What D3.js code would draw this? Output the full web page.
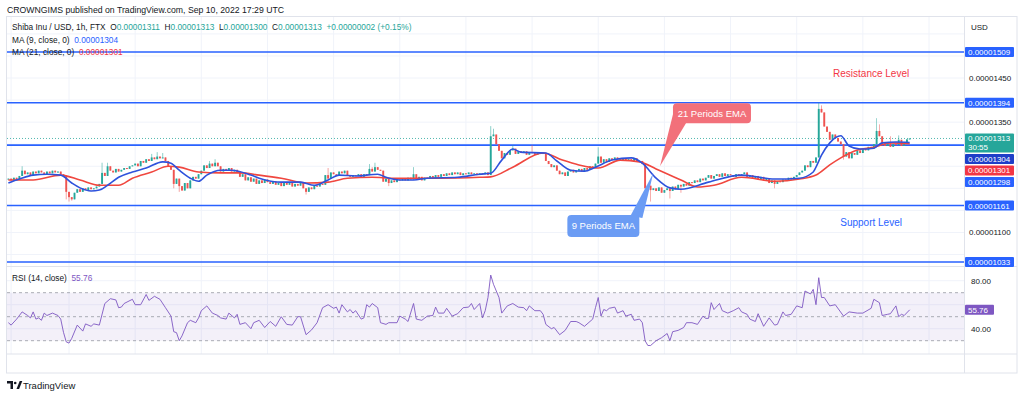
<!DOCTYPE html>
<html>
<head>
<meta charset="utf-8">
<script src="https://cdn.jsdelivr.net/npm/d3@7"></script>
<style>
  body { margin: 0; background: #fff; }
  svg { display: block; font-family: "Liberation Sans", Arial, sans-serif; }
</style>
</head>
<body>
<div id="chart"></div>
<script>
var width = 1024, height = 397;
var paneL = 7, paneR = 964, axisR = 1017;
var mainTop = 17, sepY = 266.5, rsiBot = 354, timeBot = 373;

// hourly bars start Aug 28 02:00 UTC, prices in units of 1e-8 USD
var startTime = Date.UTC(2022, 7, 28, 2);
var firstOpen = 1220;
var closes = [
  1222,1218,1224,1220,1228,1240,1232,1236,1230,1238,1234,1240,1236,1232,1238,1234,1240,1236,1238,1232,1228,1192,
  1180,1175,1190,1198,1192,1200,1196,1202,1198,1200,1204,1210,1235,1228,1250,1240,1236,1244,1238,1242,1246,1244,1250,1252,
  1256,1250,1262,1258,1266,1262,1270,1266,1272,1268,1270,1262,1250,1242,1210,1222,1205,1195,1212,1200,1218,1226,1222,1232,
  1240,1252,1246,1256,1250,1258,1250,1238,1244,1240,1246,1238,1242,1236,1226,1232,1218,1225,1215,1222,1210,1218,1212,1220,
  1214,1210,1216,1208,1212,1205,1214,1208,1212,1204,1210,1206,1212,1200,1192,1202,1198,1206,1204,1210,1208,1230,1222,1236,
  1232,1228,1238,1234,1240,1230,1226,1230,1228,1232,1226,1232,1230,1244,1238,1248,1242,1240,1215,1222,1212,1218,1214,1220,
  1218,1222,1218,1224,1220,1232,1222,1226,1218,1224,1222,1228,1224,1230,1226,1232,1228,1234,1230,1236,1232,1236,1230,1234,
  1232,1236,1232,1234,1230,1234,1232,1236,1230,1318,1322,1300,1285,1268,1280,1276,1286,1290,1278,1284,1280,1284,1276,1282,
  1280,1276,1282,1278,1280,1262,1255,1248,1252,1240,1232,1236,1228,1238,1242,1236,1240,1244,1238,1246,1242,1250,1248,1256,
  1272,1258,1266,1260,1268,1264,1270,1266,1262,1268,1264,1266,1262,1268,1260,1262,1255,1200,1206,1196,1200,1194,1202,1190,
  1196,1200,1194,1204,1198,1208,1204,1210,1206,1214,1212,1218,1214,1222,1218,1224,1230,1222,1228,1232,1226,1234,1228,1232,
  1230,1226,1232,1228,1232,1236,1226,1230,1222,1228,1220,1226,1218,1222,1212,1218,1210,1216,1214,1220,1218,1224,1220,1226,
  1230,1236,1240,1252,1248,1262,1258,1270,1380,1372,1340,1328,1310,1322,1314,1306,1300,1272,1282,1268,1280,1276,1286,1280,
  1290,1286,1294,1290,1300,1330,1318,1300,1296,1302,1294,1300,1298,1310,1296,1302,1311,1313
];
// [bar, price] wick extremes
var wickHighs = [[5,1250],[34,1258],[36,1258],[52,1278],[54,1282],[56,1280],[73,1262],[75,1266],[116,1246],[131,1255],
  [132,1248],[133,1258],[147,1248],[175,1341],[176,1335],[183,1298],[190,1298],[214,1293],[294,1394],[295,1388],
  [315,1359],[316,1345],[320,1318],[323,1320]];
var wickLows = [[21,1175],[22,1170],[23,1172],[60,1200],[62,1192],[108,1186],[138,1205],[233,1170],[240,1177],
  [244,1190],[278,1200],[303,1265]];

var ma9 = [[0,1212],[4,1221],[9,1230],[14,1232],[19,1230],[23,1212],[26,1201],[30,1194],[33,1196],[36,1207],[40,1225],
  [45,1237],[50,1246],[56,1260],[59,1257],[62,1241],[66,1223],[69,1216],[72,1230],[77,1241],[81,1241],[88,1230],
  [91,1223],[99,1214],[106,1214],[111,1207],[116,1219],[120,1230],[126,1228],[134,1232],[137,1225],[142,1219],
  [147,1219],[152,1223],[163,1225],[171,1232],[175,1234],[179,1264],[183,1289],[186,1282],[195,1280],[199,1262],
  [204,1241],[209,1239],[213,1248],[219,1264],[226,1269],[230,1257],[235,1223],[240,1201],[244,1198],[254,1214],
  [266,1230],[278,1221],[287,1223],[292,1237],[293,1248],[295,1275],[298,1303],[302,1319],[305,1296],[309,1289],
  [314,1291],[317,1303],[322,1305],[327,1304]];
var ma21 = [[0,1219],[9,1219],[19,1230],[26,1219],[33,1207],[40,1207],[45,1223],[52,1237],[58,1250],[62,1248],[69,1237],
  [77,1235],[84,1235],[91,1230],[99,1223],[108,1212],[116,1214],[123,1223],[132,1225],[140,1223],[147,1223],[157,1223],
  [171,1225],[175,1226],[183,1248],[194,1280],[201,1264],[207,1253],[214,1246],[222,1264],[229,1260],[235,1244],
  [244,1219],[250,1203],[256,1207],[266,1225],[278,1216],[287,1221],[293,1230],[298,1253],[302,1269],[308,1287],
  [314,1293],[320,1303],[327,1301]];

var rsi = [[0,45],[1,43],[3,48],[5,54],[7,51],[8,49],[9,54],[10,48],[11,49],[12,47],[13,53],[14,51],[16,53],[18,51],
  [19,48],[20,37],[21,29],[22,28],[23,32],[25,43],[27,38],[28,44],[30,42],[31,44],[33,43],[35,61],[37,65],[39,64],
  [40,57.5],[41,58],[42,61],[45,64.5],[46,60],[48,60],[50,68.5],[51,63.6],[53,67],[55,64.5],[57,57.5],[59,50.5],
  [60,37.5],[61,36.7],[62,30],[63,34],[65,45],[66,47],[68,45],[69,49],[70,55],[72,59],[74,53],[76,51],[77,49],[79,48],
  [80,53],[82,49],[83,52],[84,43.6],[86,45],[88,40],[89,45],[91,47],[93,41],[95,46],[97,42],[99,50],[101,43.6],
  [103,43],[105,50],[106,50],[108,35],[110,39],[112,45],[114,57.5],[116,60],[118,57],[119,58],[120,53],[121,60],
  [123,54],[124,56],[125,53],[126,55],[128,48],[129,49],[130,60],[131,58],[132,61],[134,57.5],[135,45],[137,43.6],
  [138,45],[141,45],[142,50.5],[144,48],[145,46],[147,61],[148,48],[150,47],[152,50.5],[154,51],[155,58],[156,53],
  [158,53],[159,57],[161,50.5],[163,52.5],[165,57.5],[167,58],[168,61],[169,56],[171,61],[172,49],[173,55],[174,66],
  [175,84.7],[176,77],[178,66],[179,53],[181,59],[183,61],[185,58],[187,57.5],[188,55],[189,59],[191,55],[193,55],
  [194,52],[195,43.6],[197,40],[198,41],[200,35],[202,38.6],[204,46],[206,46],[207,45],[209,42],[212,48],[213,57.5],
  [214,66],[215,50.5],[216,56],[217,55],[218,57],[220,58],[221,53],[223,55],[224,50.5],[226,52],[227,47],[229,48],
  [230,45],[231,30],[232,26],[233,26],[235,30],[237,32.5],[239,36],[240,30],[241,37.5],[243,38.6],[245,41],[246,45],
  [248,45],[250,43.6],[252,50.5],[253,48.6],[254,48.6],[255,61.7],[256,56],[258,61],[259,55],[261,53],[263,55],
  [265,57.5],[266,54],[268,52],[269,48],[271,46],[272,52.5],[274,42],[276,49],[278,43],[279,43.6],[281,54],[282,51],
  [284,52],[286,59],[288,57.5],[289,71.4],[291,69],[292,72.8],[293,60],[294,82.5],[295,66],[296,66],[298,59],[300,60],
  [303,50.5],[305,54],[308,53],[310,53],[313,57],[314,64.5],[316,61.7],[317,51],[319,52],[320,52.5],[322,59],[323,50],
  [324,52],[325,51],[327,55.76]];

var levels = [1509, 1394, 1298, 1161, 1033];
var priceTicks = [1050,1100,1150,1200,1250,1300,1350,1400,1450,1500,1550];
var rsiTicks = [40, 60, 80];
var timeTicks = ["2022-08-28T03:00Z","2022-08-29","2022-08-30","2022-08-31","2022-09-01","2022-09-02","2022-09-03",
  "2022-09-04","2022-09-05","2022-09-06","2022-09-07","2022-09-08","2022-09-09","2022-09-10","2022-09-11"];
var timeLabels = ["03:00","29","30","31","Sep","2","3","4","5","6","7","8","9","10","11"];

var upColor = '#26a69a', downColor = '#ef5350', textColor = '#131722', gridColor = '#f0f3fa', lineBlue = '#2962ff';
var ma9Color = '#2e52dc', ma21Color = '#f0473f', rsiColor = '#7e57c2';

var barTime = i => new Date(startTime + i * 3600e3);
var x = d3.scaleUtc()
      .domain([new Date(Date.UTC(2022,7,29)), new Date(Date.UTC(2022,8,11))])
      .range([69, 929]);
var y = d3.scaleLinear().domain([1033, 1509]).range([262, 52]);
var yR = d3.scaleLinear().domain([30, 70]).range([340.7, 292.7]);
var fmt = v => (v / 1e8).toFixed(8);

var svg = d3.select('#chart').append('svg')
      .attr('width', width)
      .attr('height', height)
      .style('font-size', '8px')

var defs = svg.append('defs')
defs.append('clipPath').attr('id', 'mainClip')
      .append('rect').attr('x', paneL).attr('y', mainTop).attr('width', paneR - paneL).attr('height', sepY - mainTop)
defs.append('clipPath').attr('id', 'rsiClip')
      .append('rect').attr('x', paneL).attr('y', sepY).attr('width', paneR - paneL).attr('height', rsiBot - sepY)
defs.append('clipPath').attr('id', 'timeClip')
      .append('rect').attr('x', paneL).attr('y', rsiBot).attr('width', paneR - paneL).attr('height', timeBot - rsiBot)

// header
svg.append('text')
      .attr('x', 7).attr('y', 12.5)
      .style('font-size', '8.7px').attr('fill', textColor)
      .text('CROWNGIMS published on TradingView.com, Sep 10, 2022 17:29 UTC')

// grid
var tickDates = timeTicks.map(d => new Date(d));
var grid = svg.append('g')
grid.selectAll('line.v').data(tickDates).enter().append('line')
      .attr('x1', d => x(d)).attr('x2', d => x(d))
      .attr('y1', mainTop).attr('y2', rsiBot)
      .attr('stroke', gridColor)
grid.selectAll('line.h').data(priceTicks).enter().append('line')
      .attr('x1', paneL).attr('x2', paneR)
      .attr('y1', d => y(d)).attr('y2', d => y(d))
      .attr('stroke', gridColor)
      .attr('clip-path', 'url(#mainClip)')
grid.selectAll('line.r').data(rsiTicks).enter().append('line')
      .attr('x1', paneL).attr('x2', paneR)
      .attr('y1', d => yR(d)).attr('y2', d => yR(d))
      .attr('stroke', gridColor)

// price pane
var main = svg.append('g').attr('clip-path', 'url(#mainClip)')

main.selectAll('line.level').data(levels).enter().append('line')
      .attr('x1', paneL).attr('x2', paneR)
      .attr('y1', d => y(d)).attr('y2', d => y(d))
      .attr('stroke', lineBlue).attr('stroke-width', 1.6)

var lastClose = closes[closes.length - 1];
main.append('line')
      .attr('x1', paneL).attr('x2', paneR)
      .attr('y1', y(lastClose)).attr('y2', y(lastClose))
      .attr('stroke', upColor).attr('stroke-dasharray', '1,2').attr('stroke-width', 0.8)

var hiMap = new Map(wickHighs), loMap = new Map(wickLows);
var bars = closes.map((c, i) => {
      var o = i ? closes[i - 1] : firstOpen;
      return { i: i, o: o, c: c,
            h: hiMap.has(i) ? hiMap.get(i) : Math.max(o, c),
            l: loMap.has(i) ? loMap.get(i) : Math.min(o, c) };
});
var candles = main.selectAll('g.candle').data(bars).enter().append('g')
candles.append('line')
      .attr('x1', d => x(barTime(d.i))).attr('x2', d => x(barTime(d.i)))
      .attr('y1', d => y(d.h)).attr('y2', d => y(d.l))
      .attr('stroke', d => d.c >= d.o ? upColor : downColor).attr('stroke-width', 0.7).attr('opacity', 0.75)
candles.append('rect')
      .attr('x', d => x(barTime(d.i)) - 0.95).attr('width', 1.9)
      .attr('y', d => y(Math.max(d.o, d.c)))
      .attr('height', d => Math.max(1, Math.abs(y(d.o) - y(d.c))))
      .attr('fill', d => d.c >= d.o ? upColor : downColor)

var maLine = d3.line().x(d => x(barTime(d[0]))).y(d => y(d[1])).curve(d3.curveMonotoneX);
main.append('path').attr('d', maLine(ma21)).attr('fill', 'none').attr('stroke', ma21Color).attr('stroke-width', 1.6)
main.append('path').attr('d', maLine(ma9)).attr('fill', 'none').attr('stroke', ma9Color).attr('stroke-width', 1.6)

// annotations
main.append('text').attr('x', x(barTime(313))).attr('y', y(1461) + 3.5)
      .attr('text-anchor', 'middle').style('font-size', '10px').attr('fill', '#f23645').text('Resistance Level')
main.append('text').attr('x', x(barTime(313))).attr('y', y(1123) + 3.5)
      .attr('text-anchor', 'middle').style('font-size', '10px').attr('fill', lineBlue).text('Support Level')

function callout(tipBar, tipVal, box, base, color, label) {
      var tx = x(barTime(tipBar)), ty = y(tipVal);
      var g = svg.append('g')
      g.append('polygon')
            .attr('points', [[tx + base[0][0], ty + base[0][1]], [tx + base[1][0], ty + base[1][1]], [tx, ty]].join(' '))
            .attr('fill', color)
      g.append('rect')
            .attr('x', tx + box[0]).attr('y', ty + box[1]).attr('width', box[2]).attr('height', box[3])
            .attr('rx', 4).attr('fill', color)
      g.append('text')
            .attr('x', tx + box[0] + box[2] / 2).attr('y', ty + box[1] + box[3] / 2 + 3.3)
            .attr('text-anchor', 'middle').style('font-size', '9.5px').attr('fill', '#fff').text(label)
}
callout(236.4, 1250, [13, -63, 78, 20], [[14, -56], [26, -43]], '#f2707a', '21 Periods EMA')
callout(234, 1235, [-86, 42, 72, 22], [[-23, 43], [-11, 45]], '#6b9cf4', '9 Periods EMA')

// RSI pane
var rsiG = svg.append('g').attr('clip-path', 'url(#rsiClip)')
rsiG.append('rect')
      .attr('x', paneL).attr('width', paneR - paneL)
      .attr('y', yR(70)).attr('height', yR(30) - yR(70))
      .attr('fill', 'rgba(126,87,194,0.09)')
rsiG.selectAll('line.band').data([70, 50, 30]).enter().append('line')
      .attr('x1', paneL).attr('x2', paneR)
      .attr('y1', d => yR(d)).attr('y2', d => yR(d))
      .attr('stroke', '#9598a1').attr('stroke-dasharray', '3,3').attr('stroke-width', 0.8)
rsiG.append('path')
      .attr('d', d3.line().x(d => x(barTime(d[0]))).y(d => yR(d[1]))(rsi))
      .attr('fill', 'none').attr('stroke', rsiColor).attr('stroke-width', 0.9)

// frame lines
var frame = svg.append('g').attr('stroke', '#e0e3eb').attr('fill', 'none')
frame.append('rect').attr('x', paneL - 0.5).attr('y', mainTop - 0.5).attr('width', axisR - paneL + 0.5).attr('height', timeBot - mainTop + 0.5)
frame.append('line').attr('x1', paneR + 0.5).attr('x2', paneR + 0.5).attr('y1', mainTop).attr('y2', timeBot)
frame.append('line').attr('x1', paneL).attr('x2', axisR).attr('y1', sepY).attr('y2', sepY)
frame.append('line').attr('x1', paneL).attr('x2', axisR).attr('y1', rsiBot).attr('y2', rsiBot)

// legends
function legendLine(yy, parts) {
      var t = svg.append('text').attr('x', 12).attr('y', yy).attr('xml:space', 'preserve').style('font-size', '8.3px')
      parts.forEach(p => t.append('tspan').attr('fill', p[1]).text(p[0]))
}
legendLine(30, [['Shiba Inu / USD, 1h, FTX  ', textColor], ['O', textColor], ['0.00001311', upColor],
      ['  H', textColor], ['0.00001313', upColor], ['  L', textColor], ['0.00001300', upColor],
      ['  C', textColor], ['0.00001313', upColor], ['  +0.00000002 (+0.15%)', upColor]])
legendLine(42.5, [['MA (9, close, 0)  ', textColor], [fmt(ma9[ma9.length - 1][1]), lineBlue]])
legendLine(54.5, [['MA (21, close, 0)  ', textColor], [fmt(ma21[ma21.length - 1][1]), '#f23645']])
legendLine(280.5, [['RSI (14, close)  ', textColor], [rsi[rsi.length - 1][1].toFixed(2), rsiColor]])

// axis value labels, stacked so they do not overlap
var tags = levels.map(v => ({ v: v, color: lineBlue, h: 10 }));
tags.push({ v: lastClose, color: upColor, h: 19, extra: '30:55' });
tags.push({ v: ma9[ma9.length - 1][1], color: '#1e3fc8', h: 10 });
tags.push({ v: ma21[ma21.length - 1][1], color: '#f23645', h: 10 });
tags.sort((a, b) => y(a.v) - y(b.v));
var prevBottom = -Infinity;
tags.forEach(t => {
      t.top = Math.max(y(t.v) - 5, prevBottom + 1.5);
      prevBottom = t.top + t.h;
});
var lastRsi = rsi[rsi.length - 1][1];

// price axis: ticks hidden where a tag or the USD caption sits on them
var freeTicks = priceTicks.filter(v => y(v) > 40 &&
      tags.every(t => y(v) + 5 < t.top || y(v) - 5 > t.top + t.h));
svg.selectAll('text.ptick').data(freeTicks).enter().append('text')
      .attr('class', 'ptick')
      .attr('x', paneR + 5).attr('y', d => y(d) + 3)
      .attr('fill', textColor)
      .text(fmt)
svg.append('text').attr('x', paneR + 7).attr('y', 30).attr('fill', textColor).text('USD')

var freeRsi = rsiTicks.filter(v => Math.abs(yR(v) - yR(lastRsi)) > 10);
svg.selectAll('text.rtick').data(freeRsi).enter().append('text')
      .attr('class', 'rtick')
      .attr('x', paneR + 7).attr('y', d => yR(d) + 3)
      .attr('fill', textColor)
      .text(d3.format('.2f'))

// time axis
var timeAxis = svg.append('g')
      .attr('transform', 'translate(0,' + rsiBot + ')')
      .attr('clip-path', 'url(#timeClip)')
      .call(d3.axisBottom(x).tickValues(tickDates).tickSize(0).tickPadding(6).tickFormat((d, i) => timeLabels[i]))
timeAxis.select('.domain').remove()
timeAxis.selectAll('text').attr('fill', textColor).style('font-size', '8px').style('font-family', 'inherit')

var tagG = svg.selectAll('g.tag').data(tags).enter().append('g')
tagG.append('rect')
      .attr('x', paneR + 1).attr('y', d => d.top).attr('width', 49).attr('height', d => d.h)
      .attr('rx', 1).attr('fill', d => d.color)
tagG.append('text')
      .attr('x', paneR + 4).attr('y', d => d.top + 8)
      .attr('fill', '#fff').text(d => fmt(d.v))
tagG.filter(d => d.extra).append('text')
      .attr('x', paneR + 4).attr('y', d => d.top + 17)
      .attr('fill', '#fff').text(d => d.extra)

svg.append('rect').attr('x', paneR + 1).attr('y', yR(lastRsi) - 5).attr('width', 29).attr('height', 10)
      .attr('rx', 1).attr('fill', rsiColor)
svg.append('text').attr('x', paneR + 4).attr('y', yR(lastRsi) + 3).attr('fill', '#fff').text(lastRsi.toFixed(2))

// footer logo
var logo = svg.append('g').attr('fill', textColor)
logo.append('path').attr('d', 'M7,381 h6 v8 h-2.5 v-5.5 h-3.5 z')
logo.append('circle').attr('cx', 15.2).attr('cy', 383).attr('r', 1.3)
logo.append('path').attr('d', 'M16.5,389 l3.2,-8 h2.6 l-3.2,8 z')
logo.append('text').attr('x', 23).attr('y', 388.5).style('font-size', '9.5px').text('TradingView')
</script>
</body>
</html>
